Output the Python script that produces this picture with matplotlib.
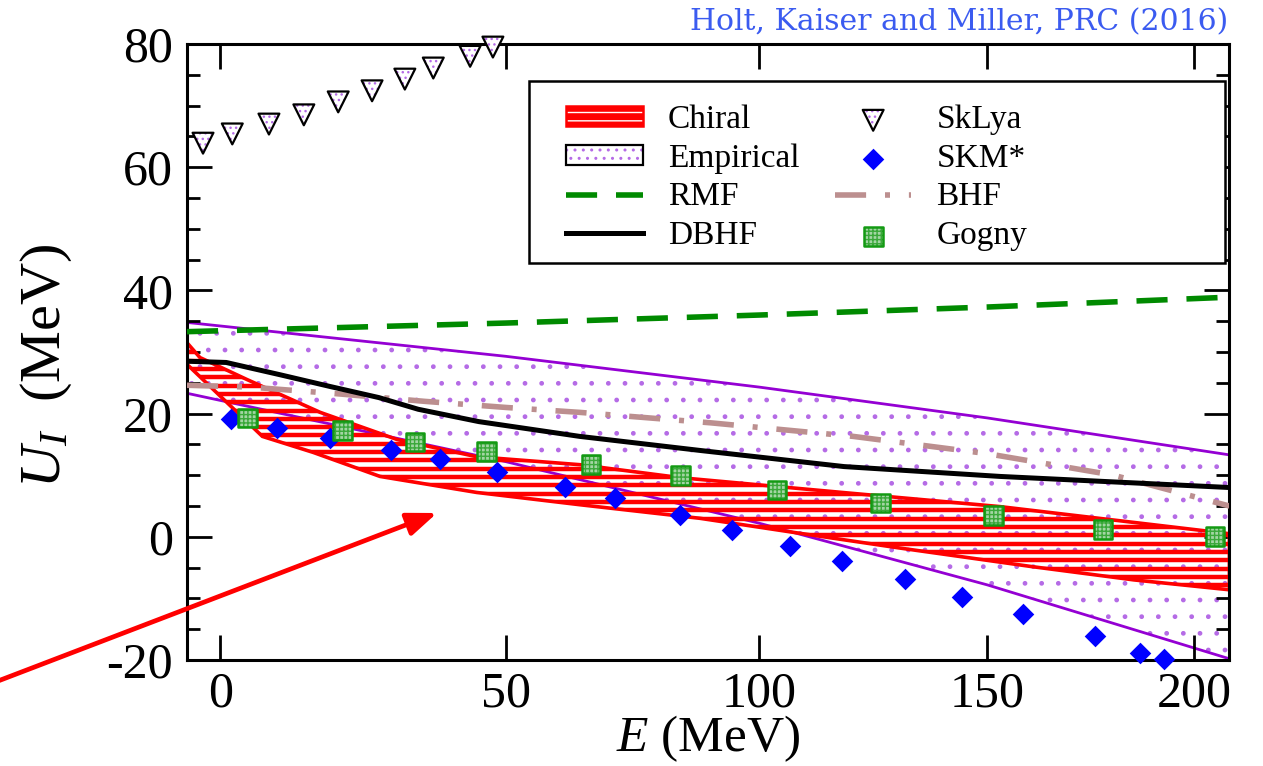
import numpy as np
import matplotlib as mpl
mpl.use("Agg")
import matplotlib.pyplot as plt
from matplotlib import font_manager as fm
from matplotlib.patches import Patch, Rectangle
from matplotlib.legend_handler import HandlerTuple
from matplotlib.ticker import MultipleLocator, FixedLocator

_names = {f.name for f in fm.fontManager.ttflist}
SERIF = next((n for n in ["Liberation Serif", "Nimbus Roman", "TeX Gyre Termes",
                          "Times New Roman", "STIXGeneral"] if n in _names),
             "DejaVu Serif")
plt.rcParams["font.family"] = [SERIF, "DejaVu Serif"]
plt.rcParams["mathtext.fontset"] = "custom"
plt.rcParams["mathtext.rm"] = SERIF
plt.rcParams["mathtext.it"] = SERIF + ":italic"
plt.rcParams["axes.unicode_minus"] = False

# ---------------- data (E in MeV, U_I in MeV) ----------------
chiral_upper_E = [-5.4, -3.3, 4.5, 16.8, 30.2, 44.6, 64.1, 83.8, 117.6, 153.0, 209.0]
chiral_upper_U = [31.5, 29.1, 25.5, 20.2, 15.8, 13.0, 11.7, 9.6, 7.2, 4.9, 0.5]
chiral_lower_E = [-5.4, 7.0, 15.6, 27.2, 44.6, 64.1, 87.8, 106.5, 130.0, 160.0, 185.0, 209.0]
chiral_lower_U = [28.0, 16.3, 13.7, 9.8, 7.2, 5.2, 3.0, 0.8, -1.8, -4.8, -7.0, -8.6]

emp_E = [-5.4, 50.0, 100.0, 150.0, 209.0]
emp_upper_U = [34.8, 29.3, 24.3, 19.3, 13.3]
emp_lower_U = [23.3, 12.2, 2.2, -7.8, -19.8]

rmf_E = [-5.4, 50.0, 100.0, 150.0, 209.0]
rmf_U = [33.3, 34.7, 36.0, 37.3, 38.9]

dbhf_E = [-5.4, 1.0, 10.0, 18.5, 27.0, 34.0, 45.0, 64.0, 88.0, 118.0, 153.0, 209.0]
dbhf_U = [28.5, 28.3, 26.3, 24.4, 22.6, 20.7, 18.7, 16.3, 14.0, 11.4, 9.8, 8.0]

bhf_E = [-5.4, 5.0, 20.0, 35.0, 50.0, 64.0, 90.0, 120.0, 150.0, 180.0, 209.0]
bhf_U = [24.6, 24.3, 23.2, 22.0, 21.0, 20.2, 18.5, 16.3, 13.5, 10.0, 5.0]

sklya_E = [-2.8, 2.0, 8.1, 14.0, 19.9, 25.8, 31.6, 36.7, 43.4, 47.6]
sklya_U = [63.9, 65.4, 67.0, 68.5, 70.6, 72.4, 74.3, 76.1, 78.0, 79.5]

skm_E = [1.8, 9.5, 18.5, 29.2, 37.9, 48.4, 61.2, 70.8, 83.8, 94.4, 106.5,
         117.6, 131.4, 144.3, 158.4, 175.5, 186.5, 192.4]
skm_U = [19.2, 17.7, 16.1, 14.1, 12.7, 10.6, 8.1, 6.3, 3.6, 1.1, -1.5,
         -3.9, -6.8, -9.8, -12.5, -16.1, -18.8, -19.9]

gogny_E = [4.5, 20.6, 33.4, 46.4, 66.2, 83.8, 103.7, 125.9, 151.4, 177.4, 205.3]
gogny_U = [19.3, 17.2, 15.4, 13.8, 11.7, 9.9, 7.6, 5.5, 3.4, 1.2, 0.0]

x_ticks = [0, 50, 100, 150, 200]
y_ticks = [-20, 0, 20, 40, 60, 80]

# ---------------- style ----------------
RED = "#ff0000"
VIOLET = "#9400d3"
DOT_VIOLET = "#b56be6"
GREEN = "#008a00"
BHF_COL = "#bc8f8f"
BLUE = "#0000ff"
GOGNY_EDGE = "#139a13"
STRIPE_STEP = 1.35      # MeV between the red stripes of the chiral band


# energy axis is compressed towards high E
def e_forward(e):
    return np.log(np.maximum(np.asarray(e, dtype=float) + 370.0, 1e-6))


def e_inverse(v):
    return np.exp(v) - 370.0


fig = plt.figure(figsize=(12.63, 7.66), dpi=100)
L, R, T, B = 187, 1229, 44, 660
ax = fig.add_axes([L / 1263, 1 - B / 766, (R - L) / 1263, (B - T) / 766])
ax.set_xscale("function", functions=(e_forward, e_inverse))
ax.set_xlim(-5.4, 208.9)
ax.set_ylim(-20, 80)

# empirical band: light dotted interior, violet outline
emp_x = emp_E + emp_E[::-1]
emp_y = emp_upper_U + emp_lower_U[::-1]
ax.fill(emp_x, emp_y, facecolor="white", edgecolor=DOT_VIOLET, hatch=".",
        linewidth=0, zorder=1)
ax.fill(emp_x, emp_y, facecolor="none", edgecolor=VIOLET, linewidth=2.0,
        zorder=1.1)

# chiral band: outline plus horizontal stripes clipped to it
ch = ax.fill(chiral_upper_E + chiral_lower_E[::-1],
             chiral_upper_U + chiral_lower_U[::-1],
             facecolor="none", edgecolor=RED, linewidth=2.6, zorder=2.1)[0]
stripes = ax.hlines(np.arange(-20, 80, STRIPE_STEP), -5.4, 208.9,
                    colors=RED, linewidth=3.2, zorder=2)
stripes.set_clip_path(ch)

# curves
rmf_line, = ax.plot(rmf_E, rmf_U, color=GREEN, lw=4.0, dashes=(5.6, 3.4),
                    zorder=3, dash_capstyle="butt")
dbhf_line, = ax.plot(dbhf_E, dbhf_U, color="black", lw=3.6, zorder=3.2)
bhf_line, = ax.plot(bhf_E, bhf_U, color=BHF_COL, lw=4.0,
                    dashes=(5.6, 3.4, 0.9, 3.4), zorder=3.1,
                    dash_capstyle="butt")

# SkLya triangles: dotted violet interior, black outline
sk_fill = ax.scatter(sklya_E, sklya_U, marker="v", s=15.0 ** 2,
                     facecolor="white", edgecolor=DOT_VIOLET, linewidths=0,
                     hatch="...", zorder=4, clip_on=False)
sk_edge = ax.scatter(sklya_E, sklya_U, marker="v", s=15.0 ** 2,
                     facecolor="none", edgecolor="black", linewidths=1.6,
                     zorder=4.1, clip_on=False)

# SKM* diamonds
skm = ax.scatter(skm_E, skm_U, marker="D", s=11.0 ** 2, color=BLUE,
                 linewidths=0, zorder=4.2, clip_on=False)

# Gogny squares with speckled green fill
go_fill = ax.scatter(gogny_E, gogny_U, marker="s", s=13.5 ** 2,
                     facecolor="#a3d5a3", edgecolor="#3aa83a",
                     linewidths=0, hatch="++++", zorder=4.5, clip_on=False)
go_edge = ax.scatter(gogny_E, gogny_U, marker="s", s=13.5 ** 2,
                     facecolor="none", edgecolor=GOGNY_EDGE, linewidths=1.8,
                     zorder=4.6, clip_on=False)

# axes styling
ax.xaxis.set_major_locator(FixedLocator(x_ticks))
ax.xaxis.set_minor_locator(FixedLocator([]))
ax.yaxis.set_major_locator(FixedLocator(y_ticks))
ax.yaxis.set_minor_locator(MultipleLocator(5))
ax.tick_params(which="both", direction="in", top=True, right=True, width=2.0)
ax.tick_params(which="major", length=18, labelsize=36)
ax.tick_params(which="minor", length=9.5)
ax.tick_params(axis="x", which="major", pad=8)
ax.tick_params(axis="y", which="major", pad=10)
for sp in ax.spines.values():
    sp.set_linewidth(2.2)

ax.set_xlabel(r"$E$ (MeV)", fontsize=37, labelpad=-3)
ax.set_ylabel(r"$U_I$  (MeV)", fontsize=42)
ax.yaxis.set_label_coords((74 - L) / (R - L), (B - 366) / (B - T))

# legend: frame drawn separately, entries placed inside it
frame = Rectangle((529 / 1263, 1 - 263 / 766), (1225 - 529) / 1263,
                  (263 - 81) / 766, transform=fig.transFigure,
                  facecolor="white", edgecolor="black", linewidth=1.8,
                  zorder=9)
ax.add_patch(frame)
frame.set_clip_on(False)

ch_handle = (Patch(facecolor=RED, edgecolor="white", hatch="--", lw=0),
             Patch(facecolor="none", edgecolor=RED, lw=1.8))
emp_handle = (Patch(facecolor="white", edgecolor=DOT_VIOLET, hatch="..", lw=0),
              Patch(facecolor="none", edgecolor="black", lw=1.6))
handles = [ch_handle, emp_handle, rmf_line, dbhf_line,
           (sk_fill, sk_edge), skm, bhf_line, (go_fill, go_edge)]
labels = ["Chiral", "Empirical", "RMF", "DBHF", "SkLya", "SKM*", "BHF", "Gogny"]
leg = ax.legend(handles, labels, ncol=2, loc="upper left",
                bbox_to_anchor=(543 / 1263, 1 - 81 / 766),
                bbox_transform=fig.transFigure, borderaxespad=0,
                fontsize=24, frameon=False, handlelength=2.3,
                handleheight=0.55, handletextpad=0.75, columnspacing=1.06,
                labelspacing=0.25, borderpad=0.7, scatterpoints=1,
                handler_map={tuple: HandlerTuple(ndivide=1, pad=0)})
leg.set_zorder(10)

# citation
fig.text(1228 / 1263, 1 - 22 / 766, "Holt, Kaiser and Miller, PRC (2016)",
         color="#3b5bf0", fontsize=21.5, ha="right", va="center",
         family=["DejaVu Serif"])

# red arrow
ax.annotate("", xy=(437 / 1263, 1 - 513 / 766), xycoords="figure fraction",
            xytext=(-2 / 1263, 1 - 681 / 766), textcoords="figure fraction",
            arrowprops=dict(arrowstyle="-|>,head_length=1.8,head_width=0.7",
                            color=RED, lw=3.4, shrinkA=0, shrinkB=0),
            annotation_clip=False, zorder=12)

fig.savefig("out.png", dpi=100)
